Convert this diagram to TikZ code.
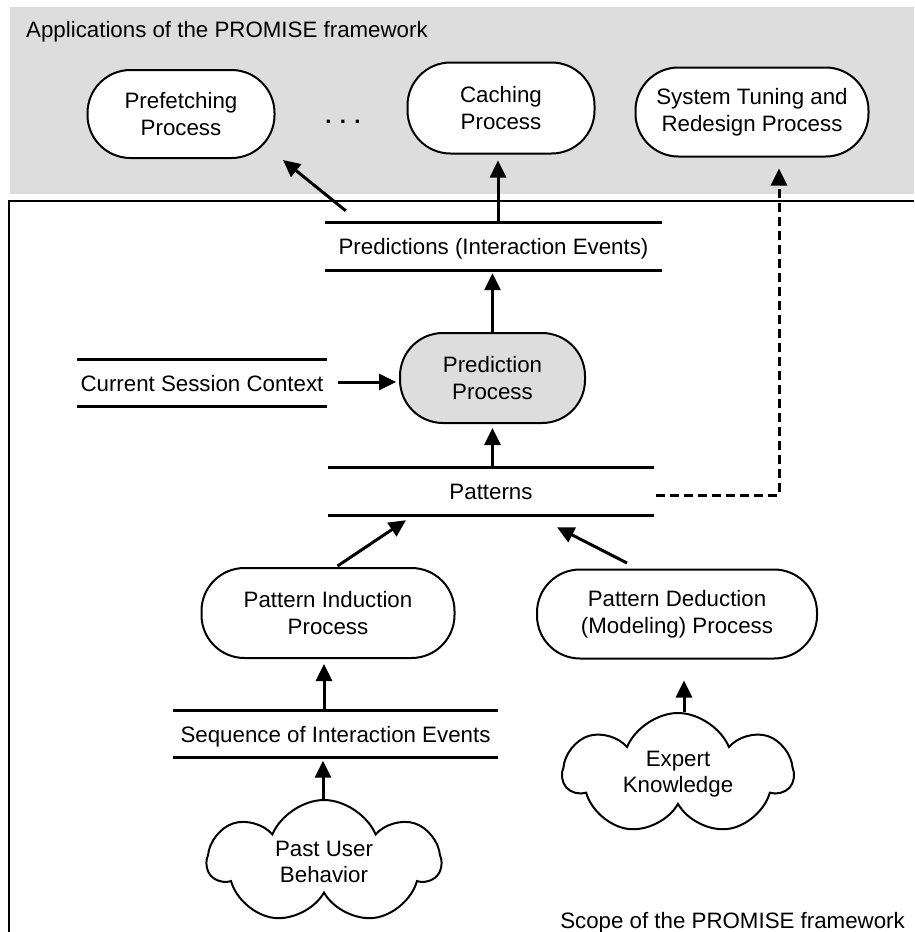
\documentclass[tikz,border=0pt]{standalone}
\usepackage{fontspec}
\setmainfont{Liberation Sans}
\usetikzlibrary{arrows.meta,shapes.symbols,calc}
\definecolor{bandgrey}{RGB}{221,221,221}
\begin{document}
\begin{tikzpicture}[x=1pt,y=-1pt,
  every node/.style={font=\fontsize{22.3}{26.5}\selectfont},
  proc/.style={draw, line width=2pt, rounded corners=43pt, fill=white, align=center, inner sep=0pt},
  barnode/.style={minimum height=47pt, inner sep=0pt, text height=18pt, text depth=2pt},
  barline/.style={line width=3pt},
  arr/.style={line width=3pt, -{Triangle[length=17pt,width=16pt]}},
  dasharr/.style={arr, dash pattern=on 9pt off 5pt},
  cloudnode/.style={cloud, cloud puffs=7, cloud puff arc=135, aspect=1.9, draw, line width=2pt, fill=white, align=center, inner sep=0pt}]
\useasboundingbox (0,0) rectangle (914,932);
\fill[bandgrey] (10,7) rectangle (914,194);
\node[anchor=west, inner sep=0pt] (apptitle) at (26,32) {Applications of the PROMISE framework};
\draw[line width=2pt] (9,932) -- (9,201) -- (914,201);
\node[anchor=base east, inner sep=0pt] (scope) at (905,928) {Scope of the PROMISE framework};
% processes
\node[proc, minimum width=187pt, minimum height=88pt] (prefetch) at (181,114) {Prefetching\\Process};
\node[anchor=base] (dots) at (343,123) {\textbf{. . .}};
\node[proc, minimum width=187pt, minimum height=91pt] (caching) at (501,108) {Caching\\Process};
\node[proc, minimum width=233pt, minimum height=89pt] (tuning) at (752,112) {System Tuning and\\Redesign Process};
\node[proc, fill=bandgrey, minimum width=185pt, minimum height=90pt] (predproc) at (492.5,378) {Prediction\\Process};
\node[proc, minimum width=253pt, minimum height=90pt] (pind) at (328,613) {Pattern Induction\\Process};
\node[proc, minimum width=280pt, minimum height=89pt] (pded) at (677,614) {Pattern Deduction\\(Modeling) Process};
% data stores
\node[barnode, minimum width=337pt] (pred) at (493.5,246.5) {Predictions (Interaction Events)};
\node[barnode, minimum width=250pt] (csc) at (202,383) {Current Session Context};
\node[barnode, minimum width=325pt] (pat) at (491,491.5) {Patterns};
\node[barnode, minimum width=325pt] (seq) at (335.5,734) {Sequence of Interaction Events};
\foreach \b in {pred,csc,pat,seq} {
  \draw[barline] (\b.north west) -- (\b.north east);
  \draw[barline] (\b.south west) -- (\b.south east);
}
% clouds
\node[cloudnode, minimum width=232pt, minimum height=124pt, shape border rotate=10] (past) at (324,862) {Past User\\Behavior};
\node[cloudnode, minimum width=229pt, minimum height=122pt, shape border rotate=-15] (expert) at (678,774) {Expert\\Knowledge};
% connectors
\draw[arr] ($(pred.north west)+(21,-12)$) -- ($(prefetch.south east)+(7.5,1)$);
\draw[arr] ($(pred.north)+(4.5,0)$) -- ($(caching.south)+(-3,6)$);
\draw[dasharr] ($(pat.east)+(2,3.5)$) -| ($(tuning.south)+(27,11)$);
\draw[arr] (predproc.north) -- ($(pred.south)+(-1,3)$);
\draw[arr] ($(pat.north)+(1.5,0)$) -- ($(predproc.south)+(0,4)$);
\draw[arr] ($(pind.north)+(9.5,-1)$) -- ($(pat.south)+(-85,5)$);
\draw[arr] ($(pded.north)+(-50,-5.5)$) -- ($(pat.south)+(66,12)$);
\draw[arr] ($(seq.north)+(-11.5,0)$) -- ($(pind.south)+(-4,5)$);
\draw[arr] ($(expert.north)+(6,0)$) -- ($(pded.south)+(7,21)$);
\draw[arr] ($(past.north)+(-1,0)$) -- ($(seq.south)+(-12.5,3)$);
\draw[arr] ($(csc.east)+(11,-1)$) -- ($(predproc.west)+(-3,4)$);
\end{tikzpicture}
\end{document}
